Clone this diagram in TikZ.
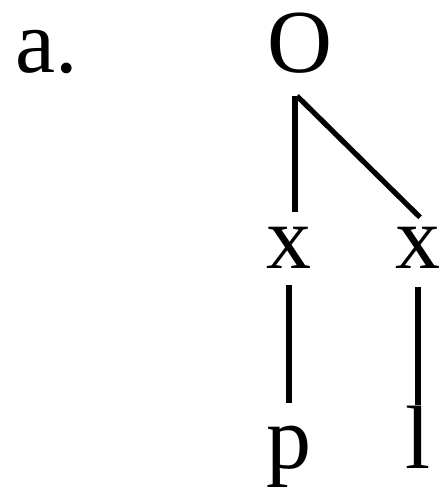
\documentclass[tikz,border=0pt]{standalone}
\usepackage{fontspec}
\setmainfont{Liberation Serif}

\begin{document}
\begin{tikzpicture}[x=0.5pt,y=-0.5pt,
  seg/.style={inner sep=0pt,anchor=base,font=\fontsize{45}{50}\selectfont},
  branch/.style={line width=3.4pt}]

\useasboundingbox (0,0) rectangle (441,487);

% Label
\node[seg,anchor=base west] (lbl) at (15,72) {a.};

% Onset
\node[seg] (O) at (300,72) {O};
\coordinate (fork) at (295,96);

% Skeleton
\node[seg] (x1) at (289,268) {x};
\node[seg] (x2) at (418,268) {x};

% Melody
\node[seg] (p) at (289,468) {p};
\node[seg] (l) at (418,468) {l};

% Association lines
\draw[branch] (fork) -- ([shift={(3pt,7pt)}]x1.north);
\draw[line width=2.6pt] ([xshift=1pt]fork) -- ([shift={(1pt,4.5pt)}]x2.north);

\draw[branch,shorten <=8.5pt,shorten >=11pt] (x1) -- (p);
\draw[branch,line width=3pt,shorten <=9.5pt] (x2) -- (l);

\end{tikzpicture}
\end{document}
